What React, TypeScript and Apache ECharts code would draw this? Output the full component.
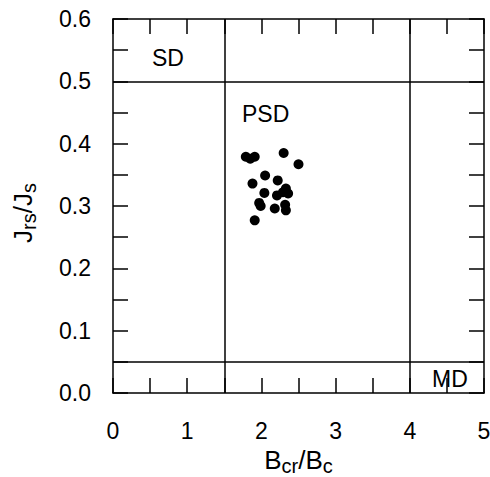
import React, { useEffect, useRef } from "react";
import * as echarts from "echarts";

const bcrBc = [1.79, 1.85, 1.91, 2.30, 2.50, 2.05, 2.22, 1.88, 2.33, 2.04, 2.21, 2.36, 2.29, 1.97, 1.99, 2.18, 2.32, 2.33, 1.91];
const jrsJs = [0.379, 0.376, 0.379, 0.385, 0.367, 0.349, 0.341, 0.336, 0.328, 0.321, 0.317, 0.320, 0.322, 0.305, 0.300, 0.296, 0.302, 0.293, 0.277];
const xBoundaries = [1.5, 4];
const yBoundaries = [0.5, 0.05];
const regionLabels = ["SD", "PSD", "MD"];

const FONT = "'Liberation Sans', Arial, Helvetica, sans-serif";

export default function App() {
  const ref = useRef<HTMLDivElement>(null);
  useEffect(() => {
    if (!ref.current) return;
    const chart = echarts.init(ref.current, null, { renderer: "svg" });
    const axisLine = { show: true, onZero: false, lineStyle: { color: "#000", width: 1.5 } };
    const tick = { show: true, inside: true, length: 15, lineStyle: { color: "#000", width: 1.5 } };
    const xLabelFmt = (v: number) => (Math.abs(v - Math.round(v)) < 1e-6 ? String(Math.round(v)) : "");
    const yLabelFmt = (v: number) => (Math.abs(v * 10 - Math.round(v * 10)) < 1e-6 ? (Math.round(v * 10) / 10).toFixed(1) : "");
    const rich = {
      b: { fontSize: 26, fontFamily: FONT, color: "#000", lineHeight: 32, verticalAlign: "middle" },
      s: { fontSize: 20, fontFamily: FONT, color: "#000", lineHeight: 32, verticalAlign: "bottom", padding: [9, 0, 0, 0] },
      p: { fontSize: 26, fontFamily: FONT, lineHeight: 32, width: 14 },
    };
    const option: any = {
      animation: false,
      grid: { left: 113, top: 19, width: 371, height: 374, containLabel: false, outerBoundsMode: "none" },
      xAxis: [
        {
          type: "value", min: 0, max: 5, interval: 0.5, position: "bottom",
          axisLine, axisTick: tick, splitLine: { show: false },
          axisLabel: { show: true, interval: 0, formatter: xLabelFmt, fontSize: 23, fontFamily: FONT, color: "#000", margin: 26 },
          name: "{b|B}{s|cr}{b|/B}{s|c}", nameLocation: "middle", nameGap: 50,
          nameTextStyle: { rich },
        },
        {
          type: "value", min: 0, max: 5, interval: 0.5, position: "top",
          axisLine, axisTick: tick, splitLine: { show: false }, axisLabel: { show: false },
        },
      ],
      yAxis: [
        {
          type: "value", min: 0, max: 0.6, interval: 0.05, position: "left",
          axisLine, axisTick: tick, splitLine: { show: false },
          axisLabel: { show: true, interval: 0, formatter: yLabelFmt, fontSize: 23, fontFamily: FONT, color: "#000", margin: 22 },
          name: "{b|J}{s|rs}{b|/J}{s|s}{p| }", nameLocation: "middle", nameGap: 74, nameRotate: 90,
          nameTextStyle: { rich },
        },
        {
          type: "value", min: 0, max: 0.6, interval: 0.05, position: "right",
          axisLine, axisTick: tick, splitLine: { show: false }, axisLabel: { show: false },
        },
      ],
      series: [
        {
          type: "scatter",
          xAxisIndex: 0, yAxisIndex: 0,
          data: bcrBc.map((x, i) => [x, jrsJs[i]]),
          symbol: "circle", symbolSize: 10,
          itemStyle: { color: "#000", opacity: 1 },
          markLine: {
            silent: true, symbol: ["none", "none"], label: { show: false },
            lineStyle: { color: "#000", width: 1.5, type: "solid" },
            data: [
              ...xBoundaries.map((v) => ({ xAxis: v })),
              ...yBoundaries.map((v) => ({ yAxis: v })),
            ],
          },
        },
      ],
      graphic: [
        { type: "text", x: 152, y: 58, style: { text: regionLabels[0], font: `23px ${FONT}`, fill: "#000", verticalAlign: "middle" } },
        { type: "text", x: 242, y: 114, style: { text: regionLabels[1], font: `23px ${FONT}`, fill: "#000", verticalAlign: "middle" } },
        { type: "text", x: 432, y: 379, style: { text: regionLabels[2], font: `23px ${FONT}`, fill: "#000", verticalAlign: "middle" } },
      ],
    };
    chart.setOption(option);
    return () => chart.dispose();
  }, []);
  return <div ref={ref} style={{ position: "fixed", left: 0, top: 0, width: 490, height: 477, background: "#fff" }} />;
}
